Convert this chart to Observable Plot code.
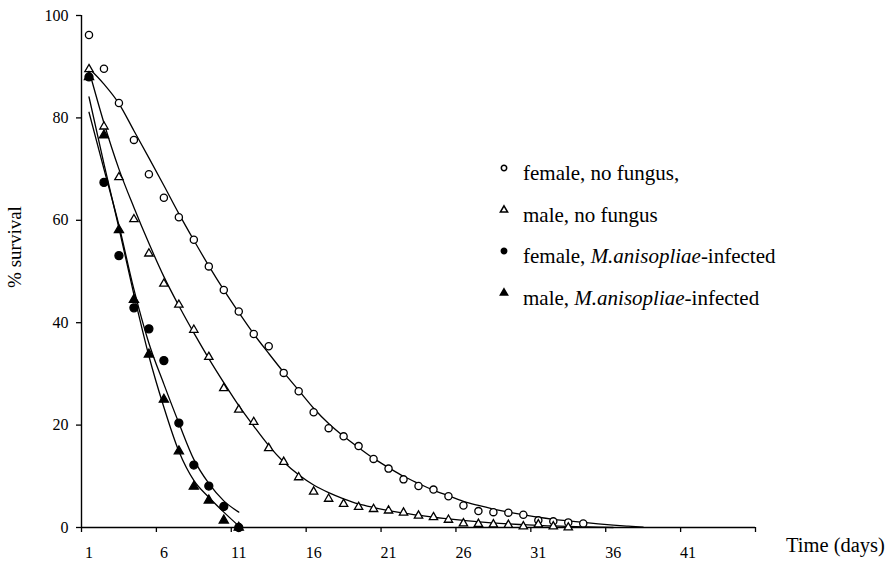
<!DOCTYPE html>
<html>
<head>
<meta charset="utf-8">
<script src="https://cdn.jsdelivr.net/npm/d3@7"></script>
<script src="https://cdn.jsdelivr.net/npm/@observablehq/plot@0.6"></script>
<style>
  html, body { margin: 0; padding: 0; background: #fff; }
  #chart { position: relative; width: 889px; height: 564px; font-family: "Liberation Serif", "Times New Roman", serif; color: #000; }
  #chart svg { display: block; }
  .ytitle { position: absolute; left: 15px; top: 247px; transform: translate(-50%, -50%) rotate(-90deg); font-size: 19px; white-space: nowrap; }
  .xtitle { position: absolute; left: 786px; top: 534px; font-size: 20.5px; white-space: nowrap; }
  .legend { position: absolute; left: 498px; top: 159px; font-size: 21px; }
  .legend .row { position: relative; height: 41.5px; white-space: nowrap; }
  .legend svg { position: absolute; left: 0; top: 1px; }
  .legend span { position: absolute; left: 25px; top: 2px; }
</style>
</head>
<body>
<div id="chart"></div>
<script>
// Days on the time axis (category positions)
const days = [1, 2, 3, 4, 5, 6, 7, 8, 9, 10, 11, 12, 13, 14, 15, 16, 17, 18, 19, 20,
              21, 22, 23, 24, 25, 26, 27, 28, 29, 30, 31, 32, 33, 34, 35, 36, 37, 38];

// Observed % survival per day
const femaleNoFungus = [96.2, 89.6, 82.9, 75.7, 69.0, 64.4, 60.6, 56.2, 51.0, 46.4, 42.2, 37.8, 35.4, 30.2, 26.6, 22.5, 19.4,
                        17.8, 15.9, 13.4, 11.5, 9.4, 8.1, 7.4, 6.1, 4.3, 3.2, 3.0, 2.9, 2.5, 1.4, 1.2, 1.0, 0.8];
const maleNoFungus = [89.5, 78.3, 68.4, 60.2, 53.5, 47.6, 43.5, 38.6, 33.3, 27.2, 23.0, 20.6, 15.5, 12.8, 9.8, 7.0, 5.6,
                      4.6, 4.0, 3.6, 3.3, 2.9, 2.3, 2.0, 1.5, 0.8, 0.7, 0.6, 0.5, 0.2, 0.6, 0.2, 0.0];
const femaleInfected = [88.0, 67.4, 53.1, 42.9, 38.8, 32.6, 20.4, 12.2, 8.1, 4.1, 0.0];
const maleInfected = [88.0, 76.6, 58.1, 44.5, 33.8, 25.0, 14.9, 8.0, 5.3, 1.4, 0.0];

// Fitted survival curves
const femaleNoFungusFit = [89.7, 86.6, 82.8, 77.5, 72.2, 66.8, 61.3, 56.1, 51.1, 46.4, 42.0, 37.8, 34.0, 30.3, 26.8, 23.3,
                           20.3, 17.8, 15.6, 13.5, 11.7, 10.0, 8.6, 7.3, 6.2, 5.1, 4.3, 3.6, 3.0, 2.5, 2.0, 1.6, 1.3, 1.0,
                           0.7, 0.45, 0.25, 0.08];
const maleNoFungusFit = [89.3, 79.0, 70.0, 62.5, 55.5, 49.0, 43.3, 38.0, 33.0, 28.3, 23.8, 19.8, 16.0, 12.8, 10.3, 8.3,
                         6.8, 5.6, 4.6, 3.9, 3.3, 2.8, 2.4, 2.0, 1.7, 1.4, 1.1, 0.9, 0.7, 0.55, 0.4, 0.3, 0.2, 0.12, 0.06, 0.0];
const femaleInfectedFit = [81.1, 70.0, 59.0, 46.5, 36.0, 28.0, 20.4, 13.3, 8.6, 5.2, 3.0];
const maleInfectedFit = [84.1, 71.0, 58.5, 45.5, 33.5, 23.5, 14.9, 9.2, 5.9, 3.0, 0.3];

// Axis ticks: marks sit between categories, labels every fifth day
const xTickMarks = [0.5, 5.5, 10.5, 15.5, 20.5, 25.5, 30.5, 35.5, 40.5, 45.5];
const xTickLabels = [1, 6, 11, 16, 21, 26, 31, 36, 41];
const yTicks = [0, 20, 40, 60, 80, 100];

const seriesNames = ["female, no fungus,", "male, no fungus", "female, M.anisopliae-infected", "male, M.anisopliae-infected"];

const toRows = (values, series) => values.map((v, i) => ({day: days[i], value: v, series}));

const observed = [
  ...toRows(femaleNoFungus, seriesNames[0]),
  ...toRows(maleNoFungus, seriesNames[1]),
  ...toRows(femaleInfected, seriesNames[2]),
  ...toRows(maleInfected, seriesNames[3])
];
const fitted = [
  ...toRows(femaleNoFungusFit, seriesNames[0]),
  ...toRows(maleNoFungusFit, seriesNames[1]),
  ...toRows(femaleInfectedFit, seriesNames[2]),
  ...toRows(maleInfectedFit, seriesNames[3])
];

const markerStyle = {
  [seriesNames[0]]: {symbol: "circle", fill: "#fff", r: 3.6},
  [seriesNames[1]]: {symbol: "triangle", fill: "#fff", r: 3.1},
  [seriesNames[2]]: {symbol: "circle", fill: "#000", r: 4.0},
  [seriesNames[3]]: {symbol: "triangle", fill: "#000", r: 3.4}
};
const bySeries = name => observed.filter(d => d.series === name);

const plot = Plot.plot({
  width: 889,
  height: 564,
  marginLeft: 81,
  marginRight: 134,
  marginTop: 15,
  marginBottom: 37,
  x: {domain: [0.5, 45.5]},
  y: {domain: [0, 100]},
  style: {fontFamily: "'Liberation Serif', 'Times New Roman', serif", fontSize: "16px", color: "#000", background: "#fff", overflow: "visible"},
  marks: [
    // axis lines
    Plot.ruleX([0.5], {y1: 0, y2: 100, stroke: "#000", strokeWidth: 1.4}),
    Plot.ruleY([0], {x1: 0.5, x2: 45.5, stroke: "#000", strokeWidth: 1.4}),
    Plot.axisY(yTicks, {tickSize: 5, tickPadding: 8, strokeWidth: 1.3, label: null, fontSize: 16}),
    Plot.axisX(xTickMarks, {tickSize: 5, tickFormat: () => "", strokeWidth: 1.3, label: null}),
    Plot.axisX(xTickLabels, {tickSize: 0, tickPadding: 19, label: null, fontSize: 16}),
    // fitted curves
    Plot.line(fitted, {x: "day", y: "value", z: "series", curve: "monotone-x", stroke: "#000", strokeWidth: 1.3}),
    // observed points
    ...seriesNames.map(name => Plot.dot(bySeries(name), {
      x: "day", y: "value",
      symbol: markerStyle[name].symbol,
      r: markerStyle[name].r,
      fill: markerStyle[name].fill,
      stroke: "#000",
      strokeWidth: 1.3
    }))
  ]
});

const chart = document.getElementById("chart");
chart.appendChild(plot);

// Axis titles
const yTitle = document.createElement("div");
yTitle.className = "ytitle";
yTitle.textContent = "% survival";
chart.appendChild(yTitle);

const xTitle = document.createElement("div");
xTitle.className = "xtitle";
xTitle.textContent = "Time (days)";
chart.appendChild(xTitle);

// Legend
const legend = d3.select(chart).append("div").attr("class", "legend");
const legendLabels = [
  ["female, no fungus,"],
  ["male, no fungus"],
  ["female, ", "M.anisopliae", "-infected"],
  ["male, ", "M.anisopliae", "-infected"]
];
seriesNames.forEach((name, i) => {
  const row = legend.append("div").attr("class", "row");
  const svg = row.append("svg").attr("width", 14).attr("height", 16);
  const m = markerStyle[name];
  const sym = m.symbol === "circle" ? d3.symbolCircle : d3.symbolTriangle;
  svg.append("path")
    .attr("transform", "translate(6,8)")
    .attr("d", d3.symbol(sym, Math.PI * 2.7 * 2.7)())
    .attr("fill", m.fill)
    .attr("stroke", "#000")
    .attr("stroke-width", 1.5);
  const label = row.append("span");
  legendLabels[i].forEach(part => {
    if (part === "M.anisopliae") label.append("i").text(part);
    else label.append(() => document.createTextNode(part));
  });
});
</script>
</body>
</html>
